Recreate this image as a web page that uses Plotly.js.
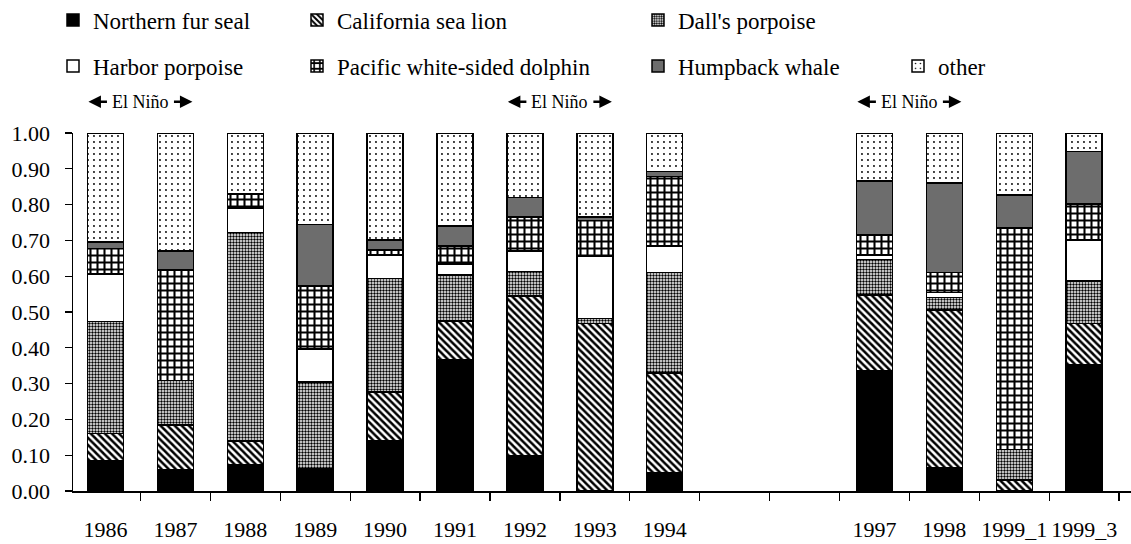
<!DOCTYPE html>
<html>
<head>
<meta charset="utf-8">
<script src="https://cdn.plot.ly/plotly-3.0.1.min.js"></script>
<style>html,body{margin:0;padding:0;background:#fff;}#chart{width:1131px;height:544px;}</style>
</head>
<body>
<div id="chart"></div>
<script>
// Categories (two blank gap years kept as empty categories)
const categories = ["1986","1987","1988","1989","1990","1991","1992","1993","1994"," ","  ","1997","1998","1999_1","1999_3"];

// Proportions per species
const northernFurSeal   = [0.085,0.059,0.073,0.063,0.140,0.368,0.099,0.000,0.051,null,null,0.336,0.065,0.000,0.354];
const californiaSeaLion = [0.076,0.125,0.067,0.000,0.137,0.107,0.446,0.468,0.278,null,null,0.211,0.441,0.031,0.114];
const dallsPorpoise     = [0.312,0.124,0.582,0.241,0.317,0.128,0.068,0.014,0.281,null,null,0.100,0.034,0.085,0.119];
const harborPorpoise    = [0.133,0.000,0.068,0.092,0.065,0.031,0.057,0.174,0.075,null,null,0.012,0.014,0.000,0.114];
const pacificWSDolphin  = [0.072,0.309,0.040,0.177,0.014,0.050,0.096,0.099,0.193,null,null,0.056,0.056,0.618,0.101];
const humpbackWhale     = [0.017,0.053,0.000,0.172,0.028,0.056,0.054,0.011,0.014,null,null,0.151,0.251,0.093,0.146];
const other             = [0.305,0.330,0.170,0.255,0.299,0.260,0.180,0.234,0.108,null,null,0.134,0.139,0.173,0.052];

const seriesNames = ["Northern fur seal","California sea lion","Dall's porpoise","Harbor porpoise","Pacific white-sided dolphin","Humpback whale","other"];

// El Niño markers (category boundary positions)
const elNinoPositions = [0.5, 6.5, 11.5];
const elNinoLabel = "El Ni\u00f1o";

const FONT = '"Liberation Serif", "Times New Roman", serif';
const line = {color:"black", width:1.5};

function bar(name, y, legend, markerExtra){
  return {
    type:"bar", name:name, x:categories, y:y, legend:legend,
    marker:Object.assign({line:line}, markerExtra),
    hoverinfo:"x+y+name"
  };
}

const traces = [
  bar(seriesNames[0], northernFurSeal, "legend", {color:"black"}),
  bar(seriesNames[1], californiaSeaLion, "legend2", {color:"white", pattern:{shape:"\\", fgcolor:"black", bgcolor:"white", size:5, solidity:0.5}}),
  bar(seriesNames[2], dallsPorpoise, "legend3", {color:"white", pattern:{shape:".", fgcolor:"black", bgcolor:"white", size:3, solidity:0.5}}),
  bar(seriesNames[3], harborPorpoise, "legend4", {color:"white"}),
  bar(seriesNames[4], pacificWSDolphin, "legend5", {color:"white", pattern:{shape:"+", fgcolor:"black", bgcolor:"white", size:7, solidity:0.5}}),
  bar(seriesNames[5], humpbackWhale, "legend6", {color:"#6d6d6d"}),
  bar(seriesNames[6], other, "legend7", {color:"white", pattern:{shape:".", fgcolor:"black", bgcolor:"white", size:6, solidity:0.08}})
];

function leg(px, py){
  return {xref:"container", yref:"container", x:px/1131, y:1-py/544, xanchor:"left", yanchor:"middle",
          orientation:"h", bgcolor:"rgba(0,0,0,0)", borderwidth:0,
          font:{family:FONT, size:23, color:"black"}, itemclick:false};
}

const annotations = [];
elNinoPositions.forEach(p => {
  annotations.push({x:p, xref:"x", y:1.087, yref:"paper", text:elNinoLabel, showarrow:false,
    xanchor:"center", yanchor:"middle", font:{family:FONT, size:18, color:"black"}});
  annotations.push({x:p, xref:"x", y:1.087, yref:"paper", xshift:-52, text:"", showarrow:true,
    ax:20, ay:0, arrowhead:2, arrowsize:1, arrowwidth:2.5, arrowcolor:"black"});
  annotations.push({x:p, xref:"x", y:1.087, yref:"paper", xshift:52, text:"", showarrow:true,
    ax:-20, ay:0, arrowhead:2, arrowsize:1, arrowwidth:2.5, arrowcolor:"black"});
});

const layout = {
  width:1131, height:544,
  margin:{l:73, r:0, t:133, b:53, pad:0},
  paper_bgcolor:"white", plot_bgcolor:"white",
  barmode:"stack", bargap:0.485,
  font:{family:FONT, size:22, color:"black"},
  xaxis:{
    type:"category", categoryorder:"array", categoryarray:categories,
    range:[-0.465, 14.67], automargin:false,
    showline:true, linecolor:"black", linewidth:1.5,
    ticks:"outside", ticklen:8, tickwidth:1.3, tickcolor:"black", tickson:"boundaries",
    showgrid:false, zeroline:false, tickangle:0,
    tickfont:{family:FONT, size:22, color:"black"}, ticklabelstandoff:18
  },
  yaxis:{
    range:[0,1], dtick:0.1, tick0:0, tickformat:".2f", automargin:false,
    showline:true, linecolor:"black", linewidth:1.5,
    ticks:"outside", ticklen:7, tickwidth:1.3, tickcolor:"black",
    showgrid:false, zeroline:false,
    tickfont:{family:FONT, size:22, color:"black"}, ticklabelstandoff:10
  },
  showlegend:true,
  legend: leg(53, 20),
  legend2: leg(297, 20),
  legend3: leg(638, 20),
  legend4: leg(53, 66),
  legend5: leg(297, 66),
  legend6: leg(638, 66),
  legend7: leg(898, 66),
  annotations: annotations
};

Plotly.newPlot("chart", traces, layout, {displayModeBar:false, staticPlot:true});
</script>
</body>
</html>
